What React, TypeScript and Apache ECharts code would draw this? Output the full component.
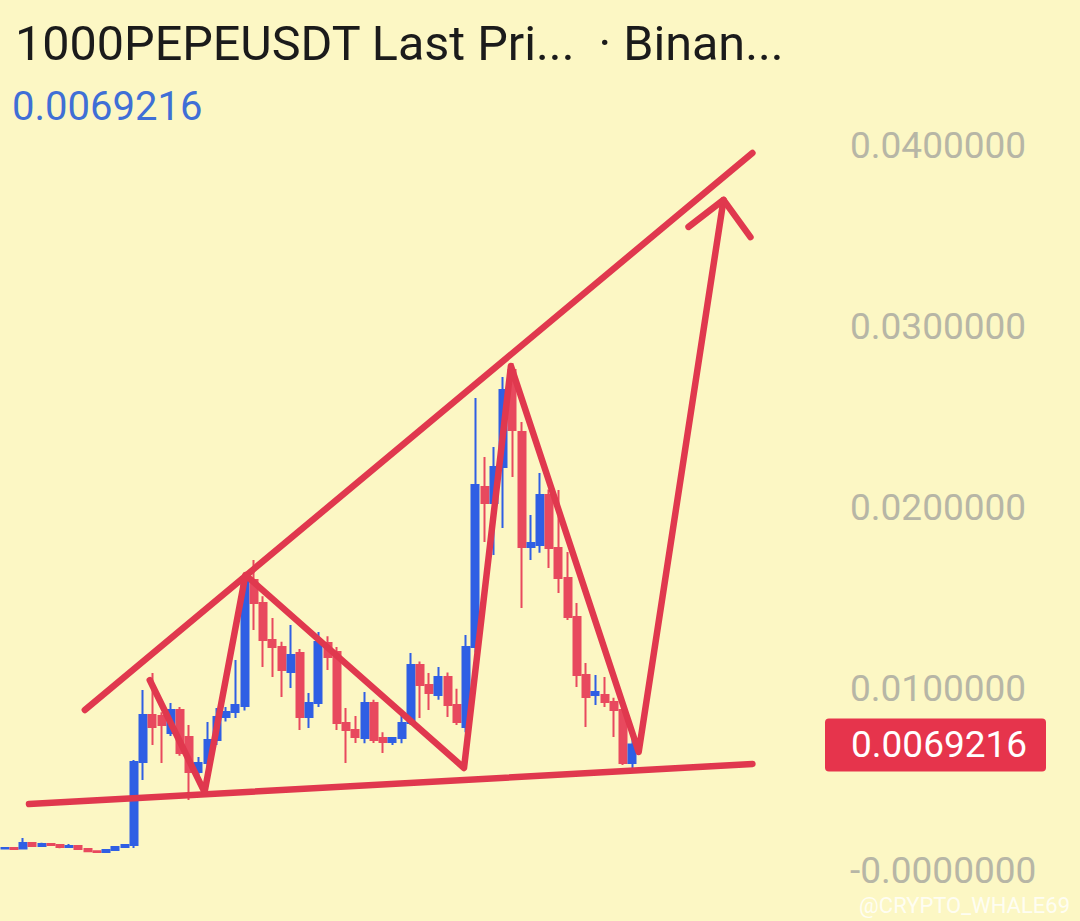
import React, { useEffect, useRef } from "react";
import * as echarts from "echarts";

// ---- data ----
const titleText = "1000PEPEUSDT Last Pri...  · Binan...";
const lastPrice = 0.0069216;
const watermark = "@CRYPTO_WHALE69";
const totalSlots = 91;

// [open, close, low, high]
const candles: number[][] = [
  [0.00118, 0.00121, 0.00113, 0.00125],
  [0.00121, 0.00116, 0.00112, 0.00124],
  [0.00118, 0.00149, 0.00115, 0.00177],
  [0.00149, 0.00132, 0.00128, 0.00152],
  [0.00132, 0.00143, 0.00128, 0.0015],
  [0.00143, 0.00138, 0.00132, 0.00146],
  [0.00138, 0.00127, 0.0012, 0.00141],
  [0.00127, 0.00132, 0.00122, 0.00143],
  [0.00132, 0.00116, 0.00112, 0.00135],
  [0.00116, 0.00104, 0.00099, 0.00118],
  [0.00104, 0.00099, 0.00094, 0.00107],
  [0.00099, 0.0011, 0.00096, 0.00113],
  [0.0011, 0.00127, 0.00107, 0.00132],
  [0.00127, 0.00138, 0.00124, 0.00143],
  [0.00138, 0.00596, 0.00121, 0.00607],
  [0.00596, 0.00855, 0.00497, 0.00993],
  [0.00855, 0.00789, 0.0069, 0.01087],
  [0.0085, 0.008, 0.0059, 0.0087],
  [0.00756, 0.00883, 0.0074, 0.00921],
  [0.00883, 0.00646, 0.0063, 0.009],
  [0.00734, 0.00541, 0.00386, 0.008],
  [0.00541, 0.0059, 0.00513, 0.00623],
  [0.0059, 0.00717, 0.0056, 0.00817],
  [0.00717, 0.00844, 0.0069, 0.00894],
  [0.00844, 0.00872, 0.0082, 0.00899],
  [0.00872, 0.0091, 0.00839, 0.01159],
  [0.00905, 0.01617, 0.0088, 0.01639],
  [0.016, 0.01473, 0.01324, 0.0171],
  [0.01473, 0.01269, 0.0112, 0.0151],
  [0.01269, 0.0123, 0.01065, 0.0139],
  [0.0123, 0.01103, 0.00954, 0.0126],
  [0.01092, 0.01186, 0.01004, 0.01352],
  [0.01197, 0.00844, 0.00772, 0.0122],
  [0.00844, 0.00921, 0.00783, 0.00977],
  [0.00921, 0.01258, 0.009, 0.01313],
  [0.01252, 0.01175, 0.01103, 0.0129],
  [0.01203, 0.00811, 0.00772, 0.0123],
  [0.00811, 0.00772, 0.0059, 0.00894],
  [0.00772, 0.00734, 0.00701, 0.0085],
  [0.00728, 0.00921, 0.007, 0.00982],
  [0.00921, 0.00717, 0.00701, 0.0094],
  [0.00728, 0.00706, 0.00646, 0.0076],
  [0.00706, 0.00728, 0.0069, 0.00734],
  [0.00728, 0.00811, 0.007, 0.0085],
  [0.00811, 0.01131, 0.008, 0.01197],
  [0.01131, 0.01021, 0.00839, 0.0115],
  [0.01021, 0.00977, 0.00883, 0.01087],
  [0.00966, 0.01065, 0.0094, 0.0112],
  [0.01065, 0.0091, 0.00844, 0.0109],
  [0.0091, 0.00817, 0.008, 0.01],
  [0.00789, 0.0123, 0.0076, 0.01297],
  [0.0123, 0.02124, 0.012, 0.02604],
  [0.02113, 0.02025, 0.0181, 0.02279],
  [0.02025, 0.02223, 0.01738, 0.02334],
  [0.02223, 0.02648, 0.01887, 0.0272],
  [0.02759, 0.02428, 0.02168, 0.02797],
  [0.02417, 0.01782, 0.01446, 0.02472],
  [0.01782, 0.01804, 0.0171, 0.01959],
  [0.01793, 0.02069, 0.0175, 0.0219],
  [0.02069, 0.01777, 0.01666, 0.021],
  [0.01777, 0.01611, 0.01528, 0.02097],
  [0.01611, 0.01396, 0.0138, 0.01754],
  [0.01396, 0.01076, 0.0101, 0.01473],
  [0.01076, 0.00954, 0.00789, 0.01142],
  [0.00966, 0.00982, 0.0091, 0.01076],
  [0.00966, 0.00927, 0.00899, 0.01065],
  [0.00927, 0.00883, 0.00734, 0.0095],
  [0.00883, 0.0059, 0.00579, 0.009],
  [0.0059, 0.0069216, 0.00535, 0.00734],
];

// hand-drawn annotation lines: [slot position, price]
const upperTrend = [
  [9.19, 0.00883],
  [81.51, 0.03956],
];
const supportLine = [
  [3.14, 0.00364],
  [81.51, 0.00585],
];
const zigzag = [
  [16.22, 0.01048],
  [22.16, 0.0043],
  [26.59, 0.01628],
  [50.27, 0.00563],
  [55.35, 0.02781],
  [69.19, 0.00651],
  [78.38, 0.03697],
];
const arrowHead = [
  [74.59, 0.03548],
  [78.38, 0.03697],
  [81.3, 0.03492],
];

const BG = "#fcf7c4";
const UP = "#2f5fe4";
const DOWN = "#e8495e";
const PEN = "#e0384e";

export default function App() {
  const ref = useRef<HTMLDivElement>(null);
  useEffect(() => {
    if (!ref.current) return;
    const chart = echarts.init(ref.current, undefined, { renderer: "svg" });
    const categories = Array.from({ length: totalSlots }, (_, i) => String(i));
    const penLine = (data: number[][]) => ({
      type: "line",
      xAxisIndex: 1,
      yAxisIndex: 0,
      data,
      symbol: "none",
      silent: true,
      z: 5,
      lineStyle: { width: 6.5, color: PEN, cap: "round", join: "round" },
    });
    const baseGraphics = [
      {
        type: "text",
        left: 15,
        top: 19,
        style: { text: titleText, font: "48.5px Roboto", fill: "#1b1b1b" },
      },
      {
        type: "text",
        left: 12,
        top: 86,
        style: { text: lastPrice.toFixed(7), font: "40px Roboto", fill: "#3f6fd6" },
      },
      {
        type: "text",
        right: 10,
        bottom: 5,
        style: { text: watermark, font: "22px Roboto", fill: "rgba(255,255,255,0.8)" },
      },
    ];
    chart.setOption({
      animation: false,
      backgroundColor: BG,
      textStyle: { fontFamily: "Roboto" },
      graphic: baseGraphics,
      grid: { left: -2, right: 240, top: 145, bottom: 51 },
      xAxis: [
        { type: "category", data: categories, show: false, boundaryGap: true },
        { type: "value", min: 0, max: totalSlots, show: false },
      ],
      yAxis: {
        type: "value",
        position: "right",
        min: 0,
        max: 0.04,
        interval: 0.01,
        splitLine: { show: false },
        axisLine: { show: false },
        axisTick: { show: false },
        axisLabel: {
          margin: 10,
          fontSize: 37,
          fontFamily: "Roboto",
          color: "#b7b6a6",
          formatter: (v: number) => (v === 0 ? "-0.0000000" : v.toFixed(7)),
        },
      },
      series: [
        {
          type: "candlestick",
          data: candles,
          barWidth: 7.5,
          itemStyle: {
            color: UP,
            color0: DOWN,
            borderColor: UP,
            borderColor0: DOWN,
            borderWidth: 2,
          },
        },
        penLine(upperTrend),
        penLine(supportLine),
        penLine(zigzag),
        penLine(arrowHead),
      ],
    });
    const y = chart.convertToPixel({ yAxisIndex: 0 }, lastPrice) as number;
    chart.setOption({
      graphic: [
        ...baseGraphics,
        {
          type: "group",
          z: 20,
          children: [
            {
              type: "rect",
              shape: { x: 825, y: y - 26, width: 221, height: 53, r: 4 },
              style: { fill: "#e6344c" },
            },
            {
              type: "text",
              x: 851,
              y: y,
              style: {
                text: lastPrice.toFixed(7),
                font: "37px Roboto",
                fill: "#ffffff",
                verticalAlign: "middle",
                align: "left",
              },
            },
          ],
        },
      ],
    });
    return () => chart.dispose();
  }, []);
  return (
    <div
      ref={ref}
      style={{ position: "fixed", left: 0, top: 0, width: 1080, height: 921 }}
    />
  );
}
